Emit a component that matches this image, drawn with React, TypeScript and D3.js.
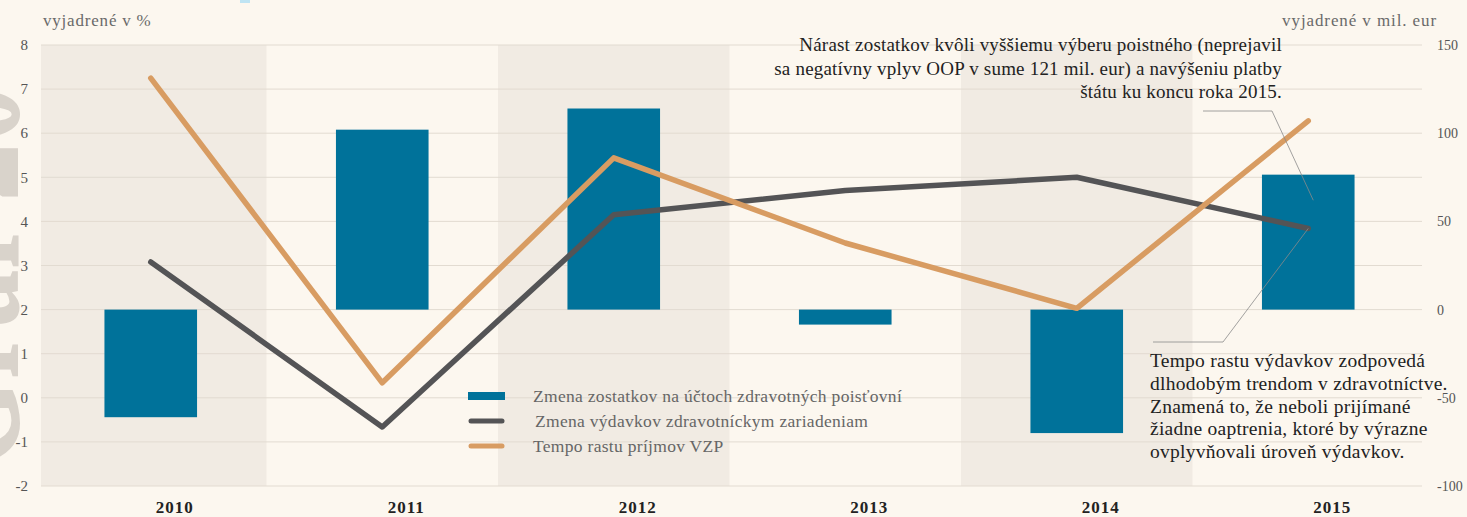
import React from 'react';
import * as d3 from 'd3';

// categories
const years = ['2010', '2011', '2012', '2013', '2014', '2015'];
// bars, mil. eur (right axis)
const balanceChange = [-61, 102, 114, -8.5, -70, 76.5];
// lines, % (left axis)
const expenditureChange = [3.08, -0.66, 4.15, 4.7, 5.0, 3.84];
const revenueGrowth = [7.25, 0.34, 5.44, 3.51, 2.03, 6.28];

const leftTicks = [8, 7, 6, 5, 4, 3, 2, 1, 0, -1, -2];
const rightTicks = [150, 100, 50, 0, -50, -100];

const legendItems = [
  { label: 'Zmena zostatkov na účtoch zdravotných poisťovní', color: '#00729a', kind: 'bar' },
  { label: 'Zmena výdavkov zdravotníckym zariadeniam', color: '#545456', kind: 'line' },
  { label: 'Tempo rastu príjmov VZP', color: '#d89c62', kind: 'line' },
];

const noteTop = [
  'Nárast zostatkov kvôli vyššiemu výberu poistného (neprejavil',
  'sa negatívny vplyv OOP v sume 121 mil. eur) a navýšeniu platby',
  'štátu ku koncu roka 2015.',
];
const noteBottom = [
  'Tempo rastu výdavkov zodpovedá',
  'dlhodobým trendom v zdravotníctve.',
  'Znamená to, že neboli prijímané',
  'žiadne oaptrenia, ktoré by výrazne',
  'ovplyvňovali úroveň výdavkov.',
];

const W = 1467;
const H = 517;
const FONT = '"Liberation Serif", "DejaVu Serif", serif';

export default function App() {
  const plotLeft = 41;
  const plotRight = 1422;
  const top = 45;
  const bottom = 486;

  const x = d3.scaleBand().domain(years).range([35, 1424]).padding(0);
  const cx = (y: string) => (x(y) ?? 0) + x.bandwidth() / 2;
  const barW = x.bandwidth() * 0.4;

  const yL = d3.scaleLinear().domain([-2, 8]).range([bottom, top]);
  const yR = d3.scaleLinear().domain([-100, 150]).range([bottom, top]);

  const lineL = d3.line<number>()
    .x((_, i) => cx(years[i]))
    .y(d => yL(d));

  const last = years[years.length - 1];
  const grayEnd = [cx(last), yL(expenditureChange[expenditureChange.length - 1])];
  const topEnd = [cx(last) + 5, yR(62)];

  return (
    <div style={{ position: 'fixed', left: 0, top: 0, width: W, height: H, overflow: 'hidden' }}>
      <svg width={W} height={H} style={{ display: 'block', background: '#fcf7ef', fontFamily: FONT }}>
        <rect x={0} y={0} width={W} height={H} fill="#fcf7ef" />
        <rect x={240} y={0} width={10} height={3} fill="#bfe4f3" />

        {/* shaded columns */}
        {years.map((yr, i) => i % 2 === 0 ? (
          <rect key={yr}
            x={Math.max(plotLeft, x(yr) ?? 0)}
            y={top}
            width={(x(yr) ?? 0) + x.bandwidth() - Math.max(plotLeft, x(yr) ?? 0)}
            height={bottom - top}
            fill="#f1ebe3" />
        ) : null)}

        {/* watermark */}
        <text transform={`translate(18,470) rotate(-90)`} fontSize={170} fontWeight="bold"
          fill="#d9d3cb" textLength={385} lengthAdjust="spacingAndGlyphs">Graf 20</text>

        {/* grid */}
        {leftTicks.map(t => (
          <line key={t} x1={plotLeft} x2={plotRight} y1={yL(t)} y2={yL(t)} stroke="#e2dbd1" strokeWidth={1} />
        ))}

        {/* left axis */}
        {leftTicks.map(t => (
          <text key={t} x={28} y={yL(t)} dy="0.35em" textAnchor="end" fontSize={15} fill="#555">
            {t}
          </text>
        ))}
        <text x={43} y={26} fontSize={17} letterSpacing={0.8} fill="#6a6a6a">vyjadrené v %</text>

        {/* right axis */}
        {rightTicks.map(t => (
          <text key={t} x={1437} y={yR(t)} dy="0.35em" fontSize={14} fill="#555">
            {t}
          </text>
        ))}
        <text x={1437} y={26} textAnchor="end" fontSize={17} letterSpacing={0.9} fill="#6a6a6a">vyjadrené v mil. eur</text>

        {/* bars */}
        {years.map((yr, i) => {
          const v = balanceChange[i];
          return (
            <rect key={yr} x={cx(yr) - barW / 2} width={barW}
              y={Math.min(yR(v), yR(0))} height={Math.abs(yR(v) - yR(0))}
              fill="#00729a" />
          );
        })}

        {/* lines */}
        <path d={lineL(expenditureChange) ?? ''} fill="none" stroke="#545456" strokeWidth={5.5}
          strokeLinejoin="round" strokeLinecap="round" />
        <path d={lineL(revenueGrowth) ?? ''} fill="none" stroke="#d89c62" strokeWidth={5.5}
          strokeLinejoin="round" strokeLinecap="round" />

        {/* x labels */}
        {years.map(yr => (
          <text key={yr} x={cx(yr) + 24} y={513} textAnchor="middle" fontSize={17} letterSpacing={1}
            fontWeight="bold" fill="#222">
            {yr}
          </text>
        ))}

        {/* legend */}
        {legendItems.map((d, i) => (
          <g key={d.label} transform={`translate(468,${396 + i * 25})`}>
            {d.kind === 'bar'
              ? <rect x={0} y={-4} width={37} height={8} fill={d.color} />
              : <line x1={3} x2={34} y1={0} y2={0} stroke={d.color} strokeWidth={5} strokeLinecap="round" />}
            <text x={i === 1 ? 67 : 65} y={0} dy="0.35em" fontSize={17.5} letterSpacing={0.3} fill="#666">{d.label}</text>
          </g>
        ))}

        {/* annotations */}
        {noteTop.map((s, i) => (
          <text key={s} x={1282} y={51 + i * 23.5} textAnchor="end" fontSize={19} letterSpacing={0.2} fill="#222">{s}</text>
        ))}
        <polyline points={`1203,111 1272,111 ${topEnd[0]},${topEnd[1]}`} fill="none" stroke="#8a8a8a" strokeWidth={0.8} />

        {noteBottom.map((s, i) => (
          <text key={s} x={1150} y={367 + i * 22.8} fontSize={19.5} letterSpacing={0.25} fill="#222">{s}</text>
        ))}
        <polyline points={`1153,342 1223,342 ${grayEnd[0]},${grayEnd[1]}`} fill="none" stroke="#8a8a8a" strokeWidth={0.8} />
      </svg>
    </div>
  );
}
